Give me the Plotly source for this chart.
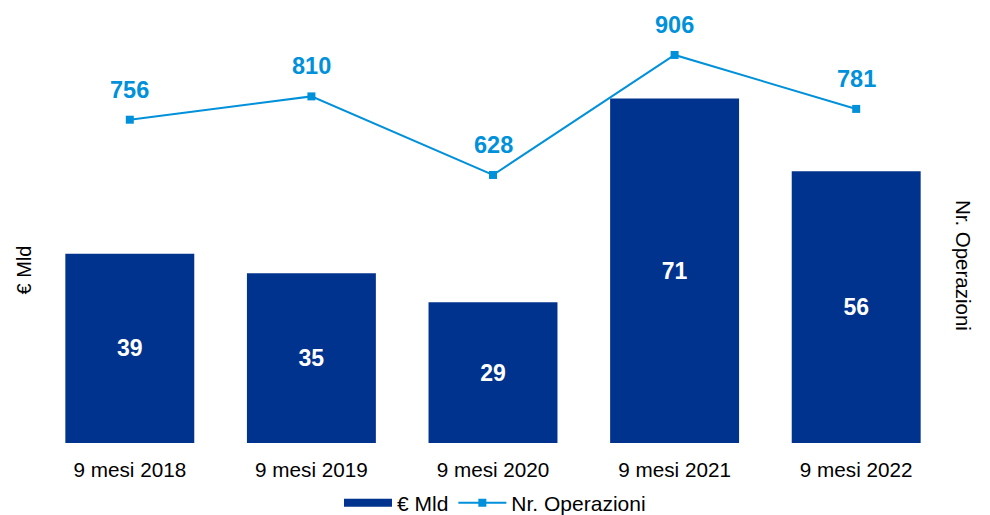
import plotly.graph_objects as go

categories = ["9 mesi 2018", "9 mesi 2019", "9 mesi 2020", "9 mesi 2021", "9 mesi 2022"]
valori_mld = [39, 35, 29, 71, 56]
nr_operazioni = [756, 810, 628, 906, 781]

BAR_COLOR = "#00338D"
LINE_COLOR = "#0091DA"
FONT = "Liberation Sans, Arial, sans-serif"

fig = go.Figure()
fig.add_trace(go.Bar(
    x=categories, y=valori_mld, name="€ Mld", showlegend=False,
    marker=dict(color=BAR_COLOR, line=dict(width=0)),
    text=[str(v) for v in valori_mld], textposition="inside",
    insidetextanchor="middle",
    textfont=dict(color="white", size=23, family=FONT, weight="bold"),
    width=0.71, yaxis="y",
))
# legend entry for bars (wide rectangle like the original)
fig.add_trace(go.Scatter(
    x=[None], y=[None], name="€ Mld", mode="lines",
    line=dict(color=BAR_COLOR, width=8), yaxis="y",
))
fig.add_trace(go.Scatter(
    x=categories, y=nr_operazioni, name="Nr. Operazioni",
    mode="lines+markers",
    line=dict(color=LINE_COLOR, width=2),
    marker=dict(symbol="square", size=8, color=LINE_COLOR),
    yaxis="y2",
))

for c, v in zip(categories, nr_operazioni):
    fig.add_annotation(x=c, y=v, yref="y2", text=f"<b>{v}</b>", showarrow=False,
                       yshift=30, font=dict(color=LINE_COLOR, size=23.5, family=FONT))

fig.add_annotation(xref="paper", yref="paper", x=-0.031, y=0.41, text="€ Mld",
                   textangle=-90, showarrow=False, font=dict(size=20, family=FONT, color="black"))
fig.add_annotation(xref="paper", yref="paper", x=1.033, y=0.42, text="Nr. Operazioni",
                   textangle=90, showarrow=False, font=dict(size=20.5, family=FONT, color="black"))

fig.update_layout(
    width=990, height=515,
    margin=dict(l=39, r=43, t=20, b=72, autoexpand=False),
    paper_bgcolor="white", plot_bgcolor="white",
    font=dict(family=FONT, color="black", size=20),
    showlegend=True,
    legend=dict(orientation="h", x=0.5, xanchor="center", xref="container",
                y=12 / 515, yanchor="middle", yref="container",
                font=dict(size=21, family=FONT), itemwidth=48),
    xaxis=dict(showline=False, showgrid=False, ticks="", ticklabelstandoff=12,
               automargin=False, tickfont=dict(size=20.7, family=FONT)),
    yaxis=dict(range=[0, 87.2], visible=False, showgrid=False),
    yaxis2=dict(range=[7, 987], overlaying="y", side="right", visible=False, showgrid=False),
    bargap=0.29,
)

fig.write_html("out.html")
